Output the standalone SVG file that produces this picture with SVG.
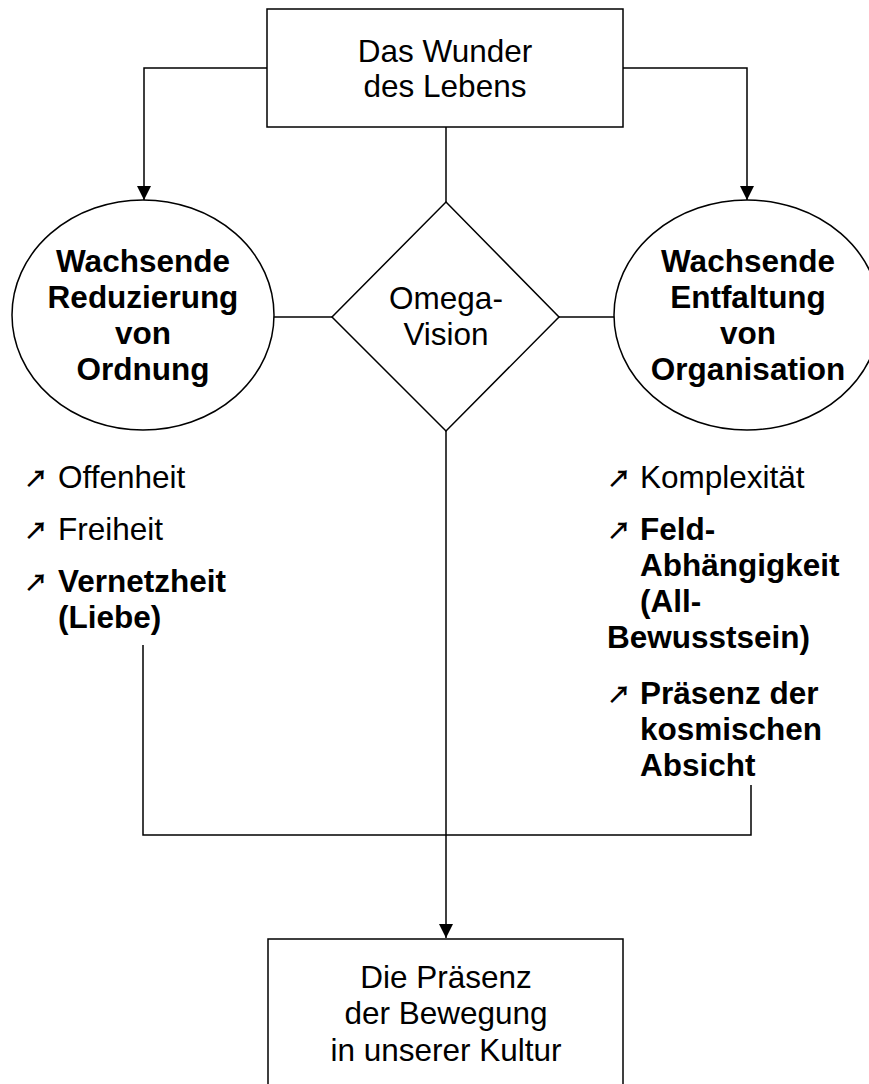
<svg xmlns="http://www.w3.org/2000/svg" width="869" height="1084" viewBox="0 0 869 1084">
<style>
.shape{fill:#fff;stroke:#000;stroke-width:1.5}
.conn{fill:none;stroke:#000;stroke-width:1.5}
text{font-family:"Liberation Sans",Arial,sans-serif;font-size:31.5px;fill:#000}
.c{text-anchor:middle}
.b{font-weight:bold}
.arr{font-family:"Noto Sans CJK JP","DejaVu Sans",sans-serif;font-size:24px;font-weight:bold}
</style>
<defs>
<marker id="ah" markerUnits="userSpaceOnUse" markerWidth="14" markerHeight="15" refX="14" refY="7" orient="auto">
<path d="M0,0 L14,7 L0,14 Z" fill="#000"/>
</marker>
</defs>
<rect width="869" height="1084" fill="#fff"/>
<g id="connectors">
<path class="conn" d="M267,68 H144 V200" marker-end="url(#ah)"/>
<path class="conn" d="M623,68 H747 V200" marker-end="url(#ah)"/>
<path class="conn" d="M446,127 V202"/>
<path class="conn" d="M274,317 H332"/>
<path class="conn" d="M559,317 H614"/>
<path class="conn" d="M446,431 V938" marker-end="url(#ah)"/>
<path class="conn" d="M143,645 V835 H751 V785"/>
</g>
<g id="top">
<rect class="shape" x="267" y="9" width="356" height="118"/>
<text class="c" x="445" y="62">Das Wunder</text>
<text class="c" x="445" y="97">des Lebens</text>
</g>
<g id="left">
<ellipse class="shape" cx="143" cy="315" rx="131" ry="115"/>
<text class="c b" x="143" y="272">Wachsende</text>
<text class="c b" x="143" y="308">Reduzierung</text>
<text class="c b" x="143" y="344">von</text>
<text class="c b" x="143" y="380">Ordnung</text>
</g>
<g id="omega">
<polygon class="shape" points="446,202 559,317 446,431 332,317"/>
<text class="c" x="446" y="309">Omega-</text>
<text class="c" x="446" y="345">Vision</text>
</g>
<g id="right">
<ellipse class="shape" cx="747" cy="315" rx="133" ry="115"/>
<text class="c b" x="748" y="272">Wachsende</text>
<text class="c b" x="748" y="308">Entfaltung</text>
<text class="c b" x="748" y="344">von</text>
<text class="c b" x="748" y="380">Organisation</text>
</g>
<g id="left-list">
<text class="arr" x="24" y="487">↗</text>
<text x="58" y="488">Offenheit</text>
<text class="arr" x="24" y="539">↗</text>
<text x="58" y="540">Freiheit</text>
<text class="arr" x="24" y="591">↗</text>
<text class="b" x="58" y="592">Vernetzheit</text>
<text class="b" x="58" y="628">(Liebe)</text>
</g>
<g id="right-list">
<text class="arr" x="607" y="487">↗</text>
<text x="640" y="488">Komplexität</text>
<text class="arr" x="607" y="539">↗</text>
<text class="b" x="640" y="540">Feld-</text>
<text class="b" x="640" y="576">Abhängigkeit</text>
<text class="b" x="640" y="612">(All-</text>
<text class="b" x="607" y="648">Bewusstsein)</text>
<text class="arr" x="607" y="703">↗</text>
<text class="b" x="640" y="704">Präsenz der</text>
<text class="b" x="640" y="740">kosmischen</text>
<text class="b" x="640" y="776">Absicht</text>
</g>
<g id="bottom">
<rect class="shape" x="268" y="939" width="355" height="160"/>
<text class="c" x="446" y="988">Die Präsenz</text>
<text class="c" x="446" y="1024">der Bewegung</text>
<text class="c" x="446" y="1061">in unserer Kultur</text>
</g>
</svg>
